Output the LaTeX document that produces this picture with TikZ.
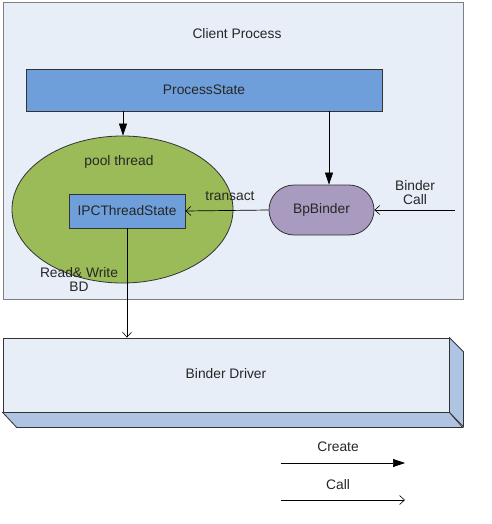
\documentclass[tikz,border=0pt]{standalone}
\usepackage{fontspec}
\setmainfont{Liberation Sans}
\usetikzlibrary{arrows.meta,shapes.misc,shapes.geometric}
\definecolor{bgblue}{HTML}{E7EEF8}
\definecolor{psblue}{HTML}{6F9FDA}
\definecolor{poolgreen}{HTML}{9BBB59}
\definecolor{bppurple}{HTML}{A99BC0}
\definecolor{sideblue}{HTML}{AFC3E2}
\definecolor{framegray}{HTML}{7F7F7F}
\tikzset{
  lbl/.style={font=\fontsize{13.8}{15}\selectfont, inner sep=0pt, text=black!85},
  boxed/.style={draw=black!80, line width=0.8pt, inner sep=0pt},
  create/.style={-{Triangle[length=12pt,width=8pt]}, line width=0.7pt},
  callarr/.style={-{Straight Barb[length=5pt,width=9pt,line width=0.6pt]}, line width=0.7pt},
}
\begin{document}
\begin{tikzpicture}[x=1pt,y=-1pt]
\useasboundingbox (0,0) rectangle (491,524);
% client process frame
\node[draw=framegray, line width=0.9pt, fill=bgblue, minimum width=460pt, minimum height=297pt, inner sep=0pt] (client) at (233,150.5) {};
\node[lbl] (clientlbl) at (237,34) {Client Process};
% ProcessState
\node[boxed, fill=psblue, minimum width=356pt, minimum height=42pt] (ps) at (204,90) {};
\node[lbl] (pslbl) at (204,90) {ProcessState};
% pool thread ellipse
\node[ellipse, draw=black!80, line width=0.8pt, fill=poolgreen, minimum width=221pt, minimum height=147pt, inner sep=0pt] (pool) at (122.5,209.5) {};
\node[lbl] (poollbl) at (119,162) {pool thread};
% IPCThreadState
\node[boxed, fill=psblue, minimum width=116pt, minimum height=34pt] (ipc) at (127,211) {};
\node[lbl] (ipclbl) at (127,211) {IPCThreadState};
% BpBinder
\node[rounded rectangle, draw=black!80, line width=0.8pt, fill=bppurple, minimum width=105pt, minimum height=50pt, inner sep=0pt] (bp) at (321.5,210) {};
\node[lbl] (bplbl) at (321.5,210) {BpBinder};
% Binder call label and start
\node[lbl, align=center] (bclbl) at (415,193) {Binder\\[-1pt]Call};
\coordinate (bcstart) at (455,210);
% transact label
\node[lbl] (trlbl) at (230,196) {transact};
% read write
\node[lbl, align=center] (rwlbl) at (79,279) {Read\& Write\\[-1pt]BD};
% Binder driver 3D
\node[draw=black!80, line width=0.8pt, fill=bgblue, minimum width=446pt, minimum height=74pt, inner sep=0pt] (drv) at (226,375) {};
\fill[sideblue, draw=black!80, line width=0.8pt] (drv.north east) -- ++(14,14) -- ++(0,75) -- (drv.south east) -- cycle;
\fill[sideblue, draw=black!80, line width=0.8pt] (drv.south west) -- ++(14,15) -- ++(446,0) -- (drv.south east) -- cycle;
\node[lbl] (drvlbl) at (226,374) {Binder Driver};
% connectors
\draw[create] (ps.south -| 123,0) -- (pool.north -| 123,0);
\draw[create] (ps.south -| 329,0) -- (bp.north -| 329,0);
\draw[callarr] (bcstart) -- (bp.east);
\draw[callarr] (bp.west) -- (ipc.east);
\draw[callarr] (ipc.south) -- (drv.north -| ipc.south);
% legend
\node[lbl] (createlbl) at (338,447) {Create};
\coordinate (cra) at (281,463);
\coordinate (crb) at (405,463);
\draw[create] (cra) -- (crb);
\node[lbl] (calllbl) at (338,485) {Call};
\coordinate (caa) at (281,500);
\coordinate (cab) at (405,500);
\draw[callarr] (caa) -- (cab);
\end{tikzpicture}
\end{document}
